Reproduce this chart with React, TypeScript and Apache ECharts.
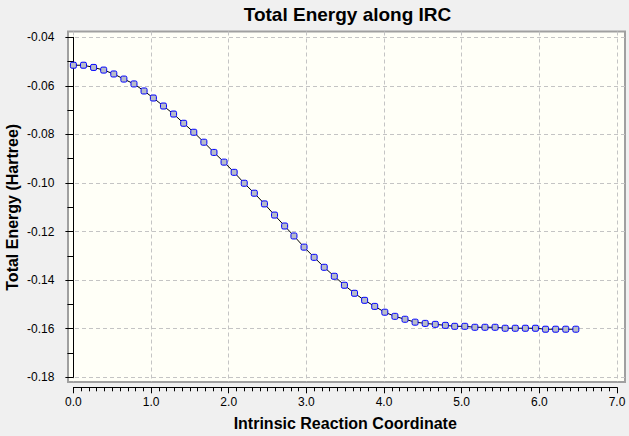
import React, { useEffect, useRef } from "react";
import * as echarts from "echarts";

// ---- data ----
const X_TICKS = [0, 1, 2, 3, 4, 5, 6, 7];
const Y_TICKS = [-0.18, -0.16, -0.14, -0.12, -0.1, -0.08, -0.06, -0.04];

const IRC_COORD = [
  0.0, 0.13, 0.26, 0.39, 0.52, 0.65, 0.78, 0.91, 1.03, 1.16,
  1.29, 1.42, 1.55, 1.68, 1.81, 1.94, 2.07, 2.2, 2.33, 2.46,
  2.59, 2.72, 2.84, 2.97, 3.1, 3.23, 3.36, 3.49, 3.62, 3.75,
  3.88, 4.01, 4.14, 4.27, 4.4, 4.53, 4.66, 4.79, 4.91, 5.04,
  5.17, 5.3, 5.43, 5.56, 5.69, 5.82, 5.95, 6.08, 6.21, 6.34, 6.47,
];

const TOTAL_ENERGY = [
  -0.0515, -0.0515, -0.0524, -0.0535, -0.0551, -0.0572, -0.0592, -0.0621, -0.065, -0.0683,
  -0.0716, -0.0754, -0.0791, -0.0832, -0.0874, -0.0914, -0.0956, -0.1001, -0.1042, -0.1086,
  -0.1132, -0.1177, -0.1218, -0.1264, -0.1306, -0.1347, -0.1384, -0.1421, -0.1454, -0.1483,
  -0.1508, -0.1532, -0.1549, -0.1561, -0.1573, -0.1578, -0.1582, -0.1586, -0.159, -0.159,
  -0.1594, -0.1594, -0.1594, -0.1598, -0.1598, -0.1598, -0.1598, -0.1602, -0.1602, -0.1602, -0.1602,
];

// ---- layout (pixels) ----
const W = 629;
const H = 436;
const FRAME = { left: 68, top: 31.5, right: 625, bottom: 382 };
const PLOT = { left: 73.4, top: 37.3, right: 617, bottom: 377.3 };
const X_MIN = X_TICKS[0];
const X_MAX = X_TICKS[X_TICKS.length - 1];
const Y_MIN = Y_TICKS[0];
const Y_MAX = Y_TICKS[Y_TICKS.length - 1];

const xAtPx = (px: number) =>
  X_MIN + ((px - PLOT.left) * (X_MAX - X_MIN)) / (PLOT.right - PLOT.left);
const yAtPx = (px: number) =>
  Y_MAX - ((px - PLOT.top) * (Y_MAX - Y_MIN)) / (PLOT.bottom - PLOT.top);

const FONT = "'Liberation Sans', Arial, sans-serif";

export default function App() {
  const ref = useRef<HTMLDivElement>(null);

  useEffect(() => {
    if (!ref.current) return;
    const chart = echarts.init(ref.current, null, { renderer: "svg" });
    const grid = {
      color: "#c4c4c4",
      type: [4, 3] as number[],
      width: 1,
    };
    chart.setOption({
      animation: false,
      backgroundColor: "#f0f0f0",
      textStyle: { fontFamily: FONT },
      graphic: [
        {
          type: "text",
          x: (FRAME.left + FRAME.right) / 2 + 1,
          y: 14,
          style: {
            text: "Total Energy along IRC",
            font: `bold 19px ${FONT}`,
            fill: "#000",
            textAlign: "center",
            textVerticalAlign: "middle",
          },
        },
      ],
      grid: [
        {
          left: FRAME.left,
          top: FRAME.top,
          width: FRAME.right - FRAME.left,
          height: FRAME.bottom - FRAME.top,
          show: true,
          backgroundColor: "#fffff7",
          borderColor: "#a0a0a0",
          borderWidth: 2,
          containLabel: false,
          outerBoundsMode: "none",
        },
        {
          left: PLOT.left,
          top: PLOT.top,
          width: PLOT.right - PLOT.left,
          height: PLOT.bottom - PLOT.top,
          show: false,
          containLabel: false,
          outerBoundsMode: "none",
        },
      ],
      xAxis: [
        {
          gridIndex: 0,
          type: "value",
          min: xAtPx(FRAME.left),
          max: xAtPx(FRAME.right),
          axisLine: { show: false },
          axisTick: { show: false, customValues: X_TICKS },
          axisLabel: { show: false, customValues: X_TICKS },
          splitLine: { show: true, lineStyle: grid },
        },
        {
          gridIndex: 1,
          type: "value",
          min: X_MIN,
          max: X_MAX,
          interval: 1,
          position: "bottom",
          offset: 10,
          axisLine: { show: true, lineStyle: { color: "#000", width: 1 } },
          axisTick: { show: true, length: 6, lineStyle: { color: "#000" } },
          minorTick: { show: true, splitNumber: 10, length: 4, lineStyle: { color: "#000" } },
          axisLabel: {
            color: "#000",
            fontSize: 12,
            fontFamily: FONT,
            margin: 9,
            formatter: (v: number) => v.toFixed(1),
          },
          splitLine: { show: false },
          name: "Intrinsic Reaction Coordinate",
          nameLocation: "middle",
          nameGap: 28,
          nameMoveOverlap: false,
          nameTextStyle: { color: "#000", fontSize: 16, fontWeight: "bold", fontFamily: FONT },
        },
      ],
      yAxis: [
        {
          gridIndex: 0,
          type: "value",
          min: yAtPx(FRAME.bottom),
          max: yAtPx(FRAME.top),
          axisLine: { show: false },
          axisTick: { show: false, customValues: Y_TICKS },
          axisLabel: { show: false, customValues: Y_TICKS },
          splitLine: { show: true, lineStyle: grid },
        },
        {
          gridIndex: 1,
          type: "value",
          min: Y_MIN,
          max: Y_MAX,
          interval: 0.02,
          position: "left",
          offset: 8,
          axisLine: { show: true, lineStyle: { color: "#000", width: 1 } },
          axisTick: { show: true, length: 8, lineStyle: { color: "#000" } },
          minorTick: { show: true, splitNumber: 2, length: 6, lineStyle: { color: "#000" } },
          axisLabel: {
            color: "#000",
            fontSize: 12,
            fontFamily: FONT,
            margin: 11,
            formatter: (v: number) => v.toFixed(2),
          },
          splitLine: { show: false },
          name: "Total Energy (Hartree)",
          nameLocation: "middle",
          nameGap: 45,
          nameMoveOverlap: false,
          nameTextStyle: { color: "#000", fontSize: 16, fontWeight: "bold", fontFamily: FONT },
        },
      ],
      series: [
        {
          type: "line",
          xAxisIndex: 1,
          yAxisIndex: 1,
          data: IRC_COORD.map((x, i) => [x, TOTAL_ENERGY[i]]),
          symbol: "roundRect",
          symbolSize: 6,
          showAllSymbol: true,
          lineStyle: { color: "#000", width: 1 },
          itemStyle: { color: "#b8bcc8", borderColor: "#0000ff", borderWidth: 1 },
          z: 5,
        },
      ],
    });
    return () => chart.dispose();
  }, []);

  return (
    <div
      ref={ref}
      style={{ position: "fixed", left: 0, top: 0, width: W, height: H }}
    />
  );
}
